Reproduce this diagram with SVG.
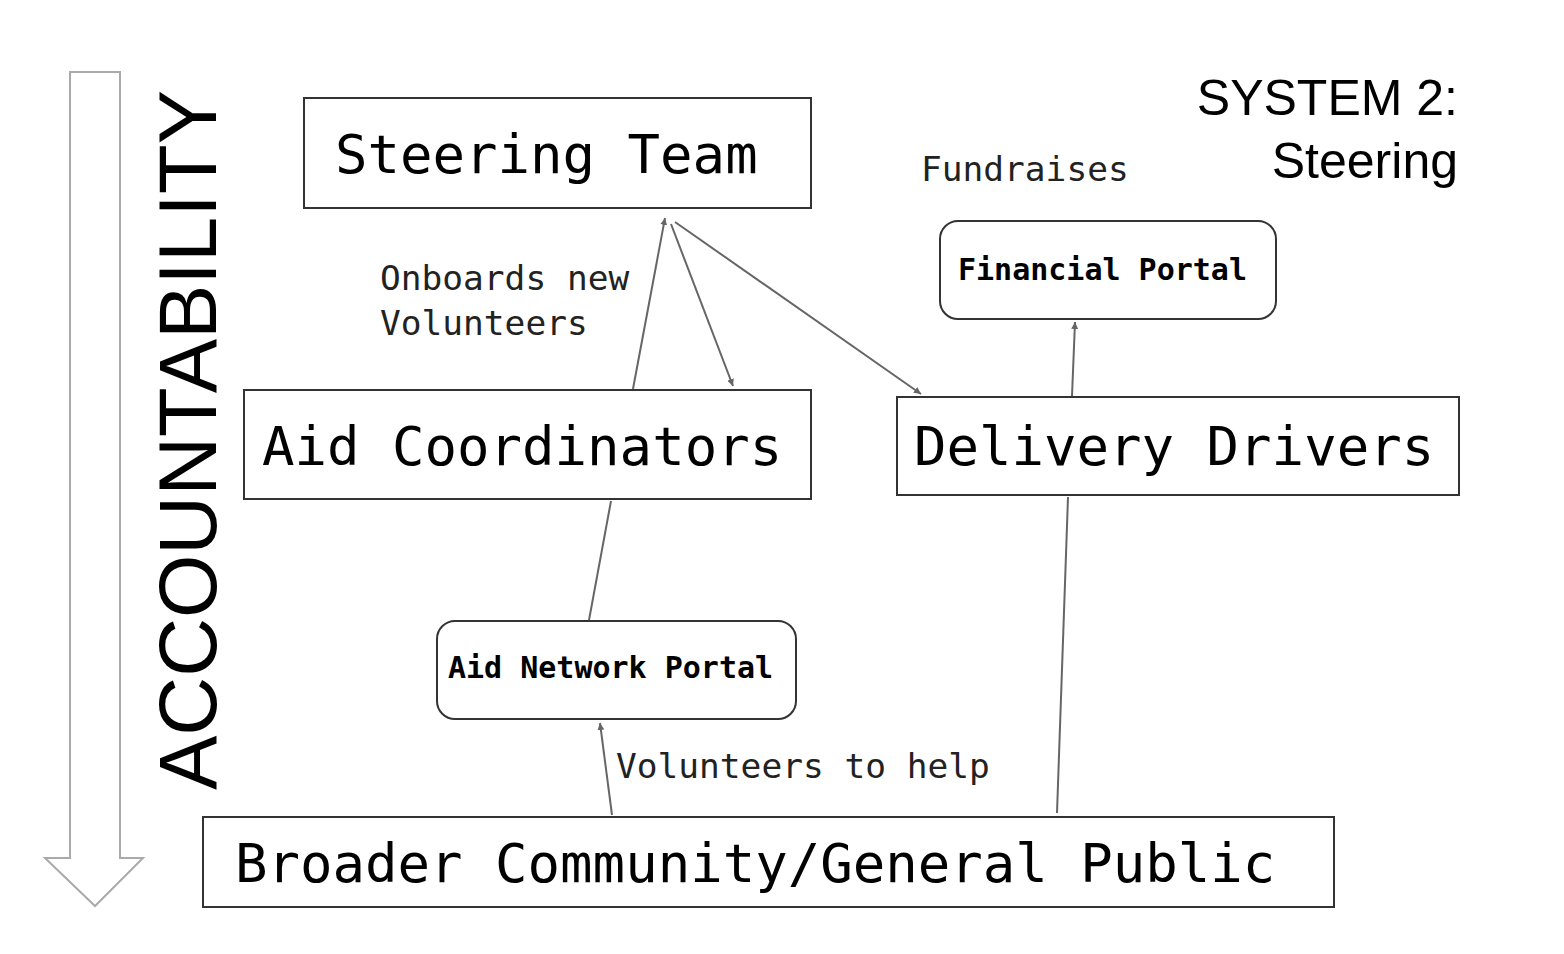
<svg xmlns="http://www.w3.org/2000/svg" width="1564" height="954" viewBox="0 0 1564 954">
<style>
.box{fill:#fff;stroke:#333;stroke-width:2}
.big{font-family:"DejaVu Sans Mono",monospace;font-size:54px;fill:#000}
.lbl{font-family:"DejaVu Sans Mono",monospace;font-size:34.5px;fill:#222}
.portal{font-family:"DejaVu Sans Mono",monospace;font-size:30px;font-weight:bold;fill:#000}
.sans{font-family:"Liberation Sans",Arial,sans-serif;fill:#000}
.c{stroke:#666;stroke-width:2;fill:none;marker-end:url(#ah)}
</style>
<defs><marker id="ah" viewBox="0 0 10 10" refX="10" refY="5" markerWidth="7" markerHeight="7" markerUnits="userSpaceOnUse" orient="auto"><path d="M0,0L10,5L0,10z" fill="#666"/></marker></defs>
<rect width="1564" height="954" fill="#fff"/>
<path d="M70,72H120V858H143L95,906L45,858H70Z" fill="#fff" stroke="#aaa" stroke-width="2"/>
<text class="sans" font-size="82" transform="translate(216,790) rotate(-90)" textLength="700" lengthAdjust="spacingAndGlyphs">ACCOUNTABILITY</text>
<text class="sans" font-size="50" text-anchor="end"><tspan x="1458" y="115">SYSTEM 2:</tspan><tspan x="1458" y="178">Steering</tspan></text>
<g id="steering"><rect class="box" x="304" y="98" width="507" height="110"/><text class="big" x="335" y="173">Steering Team</text></g>
<g id="aidcoord"><rect class="box" x="244" y="390" width="567" height="109"/><text class="big" x="262" y="465">Aid Coordinators</text></g>
<g id="drivers"><rect class="box" x="897" y="397" width="562" height="98"/><text class="big" x="914" y="465">Delivery Drivers</text></g>
<g id="public"><rect class="box" x="203" y="817" width="1131" height="90"/><text class="big" x="235" y="882">Broader Community/General Public</text></g>
<g id="financial"><rect class="box" x="940" y="221" width="336" height="98" rx="18"/><text class="portal" x="958" y="280">Financial Portal</text></g>
<g id="aidportal"><rect class="box" x="437" y="621" width="359" height="98" rx="18"/><text class="portal" x="448" y="678">Aid Network Portal</text></g>
<g id="labels">
<text class="lbl" x="380" y="290">Onboards new</text>
<text class="lbl" x="380" y="335">Volunteers</text>
<text class="lbl" x="921" y="181">Fundraises</text>
<text class="lbl" x="616" y="778">Volunteers to help</text>
</g>
<g id="connectors">
<path class="c" d="M633,389L665,218"/>
<path class="c" d="M671,224L733,386"/>
<path class="c" d="M675,222L921,394"/>
<path class="c" d="M1072,396L1075,322"/>
<path class="c" d="M589,620L611,501" style="marker-end:none"/>
<path class="c" d="M612,815L600,723"/>
<path class="c" d="M1057,813L1068,497" style="marker-end:none"/>
</g>
</svg>
